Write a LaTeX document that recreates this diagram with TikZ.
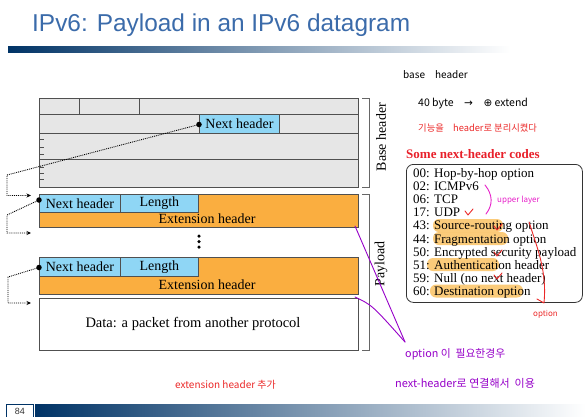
\documentclass[tikz,border=0pt]{standalone}
\usepackage{fontspec}
\setmainfont{Liberation Serif}
\newfontfamily\titlefont{Liberation Sans}
\newfontfamily\kr{Noto Sans CJK KR}
\newfontfamily\symfont{DejaVu Sans}
\usetikzlibrary{arrows.meta}
\definecolor{navy}{RGB}{0,51,102}
\definecolor{titleblue}{RGB}{59,107,170}
\definecolor{cellgray}{RGB}{230,230,230}
\definecolor{cellblue}{RGB}{143,214,245}
\definecolor{extorange}{RGB}{250,174,64}
\definecolor{edgegray}{RGB}{80,80,80}
\definecolor{codered}{RGB}{232,32,42}
\definecolor{penred}{RGB}{235,40,40}
\definecolor{penpurple}{RGB}{150,0,200}
\definecolor{penmagenta}{RGB}{230,30,200}
\definecolor{hilite}{RGB}{249,185,78}
\begin{document}
\begin{tikzpicture}[x=1pt,y=-1pt,
  cell/.style={draw=edgegray, line width=0.8pt, inner sep=0pt, anchor=north west,
    font=\fontsize{14}{14}\selectfont},
  grayc/.style={cell, fill=cellgray},
  bluec/.style={cell, fill=cellblue},
  orangec/.style={cell, fill=extorange},
  dotnode/.style={circle, fill=black, inner sep=0pt, minimum size=5.5pt},
  ptr/.style={densely dotted, line width=0.9pt, -{Stealth[length=4.5pt,width=4pt]}},
  brace/.style={draw=gray!80!black, line width=1pt},
  sidelabel/.style={rotate=90, font=\fontsize{14}{14}\selectfont},
  codeline/.style={anchor=base west, inner sep=0pt, font=\fontsize{13}{13}\selectfont},
  hl/.style={fill=hilite, opacity=0.75, rounded corners=6pt},
  pen/.style={line width=0.9pt, line cap=round, line join=round},
  hand/.style={inner sep=0pt, anchor=base west}]
\useasboundingbox (0,0) rectangle (586,416);

% title and bars
\node[anchor=base west, inner sep=0pt, text=titleblue,
  font=\titlefont\fontsize{24.4}{24.4}\selectfont] (title) at (32,31) {IPv6: Payload in an IPv6 datagram};
\shade[left color=navy, right color=white] (8,46) rectangle (510,52);
\shade[left color=navy, right color=white] (35,404) rectangle (586,416);
\node[draw=navy, line width=1pt, anchor=north west, minimum width=27pt, minimum height=14pt,
  inner sep=0pt, font=\titlefont\fontsize{9}{9}\selectfont, text=black!80] (page) at (6,404) {84};

% base header
\node[grayc, minimum width=40pt, minimum height=16pt] (b1a) at (39,98) {};
\node[grayc, minimum width=60pt, minimum height=16pt] (b1b) at (79,98) {};
\node[grayc, minimum width=219pt, minimum height=16pt] (b1c) at (139,98) {};
\node[grayc, minimum width=319pt, minimum height=19pt] (b2) at (39,114) {};
\node[bluec, minimum width=80pt, minimum height=19pt] (nh0) at (199,114) {Next header};
\node[grayc, minimum width=319pt, minimum height=26pt] (b3) at (39,133) {};
\node[grayc, minimum width=319pt, minimum height=28pt] (b4) at (39,159) {};
\foreach \yy in {139,147,154,167,173,179} \draw[edgegray, line width=0.7pt] (39,\yy) -- (44,\yy);

% extension header 1
\node[orangec, minimum width=319pt, minimum height=33pt] (e1) at (39,194) {};
\node[bluec, minimum width=81pt, minimum height=18pt] (nh1) at (39,194) {Next header};
\node[bluec, minimum width=78pt, minimum height=18pt] (len1) at (120,194) {Length};
\node[font=\fontsize{14}{14}\selectfont, inner sep=0pt] (ext1) at (207,219) {Extension header};

% dots
\node[circle, fill=black, inner sep=0pt, minimum size=3.5pt] (v1) at (199,236) {};
\node[circle, fill=black, inner sep=0pt, minimum size=3.5pt] (v2) at (199,241.5) {};
\node[circle, fill=black, inner sep=0pt, minimum size=3.5pt] (v3) at (199,247) {};

% extension header 2
\node[orangec, minimum width=319pt, minimum height=37pt] (e2) at (39,257) {};
\node[bluec, minimum width=81pt, minimum height=19pt] (nh2) at (39,257) {Next header};
\node[bluec, minimum width=78pt, minimum height=19pt] (len2) at (120,257) {Length};
\node[font=\fontsize{14}{14}\selectfont, inner sep=0pt] (ext2) at (207,285) {Extension header};

% data
\node[cell, fill=white, minimum width=319pt, minimum height=52pt] (data) at (39,298) {};
\node[font=\fontsize{14.5}{14.5}\selectfont, inner sep=0pt] (datatxt) at (193,324) {Data: a packet from another protocol};

% pointer dots
\node[dotnode] (d0) at (199,124.5) {};
\node[dotnode] (d1) at (39,200) {};
\node[dotnode] (d2) at (39,267.5) {};
\coordinate (k0) at (7,175);
\coordinate (k1) at (7,215);
\coordinate (k2) at (8,277);
\coordinate (a0) at (31,195.5);
\coordinate (a1) at (31,233);
\coordinate (a2) at (31,303);
\draw[ptr] (d0.center) -- (k0) |- (a0);
\draw[ptr] (d1.center) -- (k1) |- (a1);
\draw[ptr] (d2.center) -- (k2) |- (a2);

% brackets
\draw[brace] (362,98) -- (369,98) -- (369,187) -- (362,187);
\draw[brace] (362,194) -- (369,194) -- (369,350) -- (362,350);
\node[sidelabel] (bhl) at (381,137) {Base header};
\node[sidelabel] (pll) at (381,264) {Payload};

% codes box
\node[anchor=base west, inner sep=0pt, text=codered,
  font=\bfseries\fontsize{13}{13}\selectfont] (codestitle) at (406,158) {Some next-header codes};
\node[draw=black!80, line width=0.8pt, rounded corners=7pt, anchor=north west,
  minimum width=176pt, minimum height=138pt, inner sep=0pt] (codes) at (406,164) {};
\fill[hl] (433,219) rectangle (503,232);
\fill[hl] (433,232) rectangle (508,245);
\fill[hl] (427,258) rectangle (499,271);
\fill[hl] (430,284.5) rectangle (523,297.5);
\foreach \t [count=\i] in {00: Hop-by-hop option, 02: ICMPv6, 06: TCP, 17: UDP,
  43: Source-routing option, 44: Fragmentation option, 50: Encrypted security payload,
  51: Authentication header, 59: Null (no next header), 60: Destination option}
  \node[codeline] (c\i) at (413,{177.5+13.1*(\i-1)}) {\t};

% handwritten notes
\node[hand, font=\kr\fontsize{10}{10}\selectfont] (n1) at (403,78) {base\quad header};
\node[hand, font=\kr\fontsize{10.5}{10.5}\selectfont] (n2) at (418,106) {40 byte\quad {\symfont →}\quad {\symfont ⊕} extend};
\node[hand, text=penred, font=\kr\fontsize{9.3}{9.3}\selectfont] (n3) at (418,131) {기능을\quad header로 분리시켰다};
\node[hand, text=penmagenta, font=\kr\fontsize{8}{8}\selectfont] (n4) at (497,202) {upper layer};
\node[hand, text=penred, font=\kr\fontsize{8}{8}\selectfont] (n5) at (533,316) {option};
\node[hand, text=penpurple, font=\kr\fontsize{10.8}{10.8}\selectfont] (n6) at (405,357) {option 이\ \ 필요한경우};
\node[hand, text=penpurple, font=\kr\fontsize{11}{11}\selectfont] (n7) at (395,387) {next-header로 연결해서\ \ 이용};
\node[hand, text=penred, font=\kr\fontsize{10}{10}\selectfont] (n8) at (175,388) {extension header 추가};

% pen strokes
\draw[pen, penmagenta] (485,185) .. controls (493,195) and (493,205) .. (486,214);
\draw[pen, penred] (465,211) -- (468,215) -- (473,209);
\draw[pen, penred] (494,226) -- (497,230) -- (502,224);
\draw[pen, penred] (494,252) -- (497,256) -- (502,250);
\draw[pen, penred] (494,275) -- (497,279) -- (502,273);
\draw[pen, penred] (529,222) .. controls (538,250) and (547,272) .. (544,303) -- (537,299);
\coordinate (apex) at (405,342);
\draw[pen, penpurple] (355,226) -- (apex);
\draw[pen, penpurple] (355,297) .. controls (372,305) .. (apex);
\end{tikzpicture}
\end{document}
